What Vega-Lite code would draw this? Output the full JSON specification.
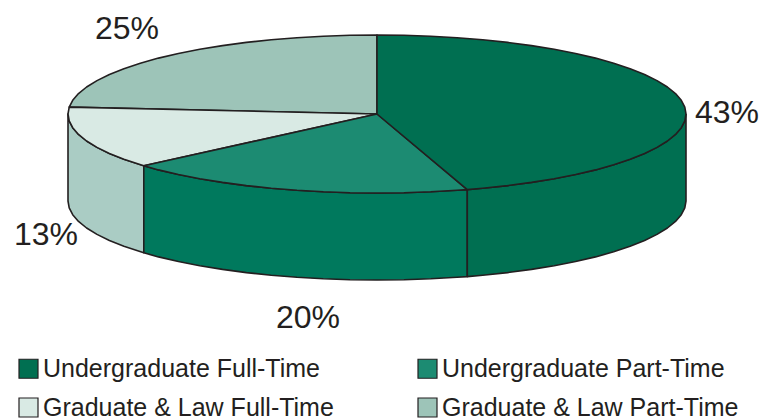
{"$schema":"https://vega.github.io/schema/vega-lite/v6.json","width":763,"height":419,"padding":0,"autosize":{"type":"fit","contains":"padding"},"background":"white","datasets":{"faces":[
{"face":"Graduate & Law Full-Time side","x":143.8,"y":165.8},{"face":"Graduate & Law Full-Time side","x":123.9,"y":159.3},{"face":"Graduate & Law Full-Time side","x":109.4,"y":153.5},{"face":"Graduate & Law Full-Time side","x":97,"y":147.4},{"face":"Graduate & Law Full-Time side","x":86.6,"y":141},{"face":"Graduate & Law Full-Time side","x":78.5,"y":134.4},{"face":"Graduate & Law Full-Time side","x":72.7,"y":127.7},{"face":"Graduate & Law Full-Time side","x":69.2,"y":120.9},{"face":"Graduate & Law Full-Time side","x":68,"y":114},{"face":"Graduate & Law Full-Time side","x":68,"y":201},{"face":"Graduate & Law Full-Time side","x":69.2,"y":207.9},{"face":"Graduate & Law Full-Time side","x":72.7,"y":214.7},{"face":"Graduate & Law Full-Time side","x":78.5,"y":221.4},{"face":"Graduate & Law Full-Time side","x":86.6,"y":228},{"face":"Graduate & Law Full-Time side","x":97,"y":234.4},{"face":"Graduate & Law Full-Time side","x":109.4,"y":240.5},{"face":"Graduate & Law Full-Time side","x":123.9,"y":246.3},{"face":"Graduate & Law Full-Time side","x":143.8,"y":252.8},{"face":"Graduate & Law Full-Time side","x":143.8,"y":165.8},
{"face":"Undergraduate Part-Time side","x":467.3,"y":189.6},{"face":"Undergraduate Part-Time side","x":457,"y":190.3},{"face":"Undergraduate Part-Time side","x":430.7,"y":191.8},{"face":"Undergraduate Part-Time side","x":403.9,"y":192.7},{"face":"Undergraduate Part-Time side","x":377,"y":193},{"face":"Undergraduate Part-Time side","x":350.1,"y":192.7},{"face":"Undergraduate Part-Time side","x":323.3,"y":191.8},{"face":"Undergraduate Part-Time side","x":297,"y":190.3},{"face":"Undergraduate Part-Time side","x":271.3,"y":188.2},{"face":"Undergraduate Part-Time side","x":246.4,"y":185.6},{"face":"Undergraduate Part-Time side","x":222.5,"y":182.4},{"face":"Undergraduate Part-Time side","x":199.8,"y":178.7},{"face":"Undergraduate Part-Time side","x":178.4,"y":174.5},{"face":"Undergraduate Part-Time side","x":158.5,"y":169.9},{"face":"Undergraduate Part-Time side","x":143.8,"y":165.8},{"face":"Undergraduate Part-Time side","x":143.8,"y":252.8},{"face":"Undergraduate Part-Time side","x":158.5,"y":256.9},{"face":"Undergraduate Part-Time side","x":178.4,"y":261.5},{"face":"Undergraduate Part-Time side","x":199.8,"y":265.7},{"face":"Undergraduate Part-Time side","x":222.5,"y":269.4},{"face":"Undergraduate Part-Time side","x":246.4,"y":272.6},{"face":"Undergraduate Part-Time side","x":271.3,"y":275.2},{"face":"Undergraduate Part-Time side","x":297,"y":277.3},{"face":"Undergraduate Part-Time side","x":323.3,"y":278.8},{"face":"Undergraduate Part-Time side","x":350.1,"y":279.7},{"face":"Undergraduate Part-Time side","x":377,"y":280},{"face":"Undergraduate Part-Time side","x":403.9,"y":279.7},{"face":"Undergraduate Part-Time side","x":430.7,"y":278.8},{"face":"Undergraduate Part-Time side","x":457,"y":277.3},{"face":"Undergraduate Part-Time side","x":467.3,"y":276.6},{"face":"Undergraduate Part-Time side","x":467.3,"y":189.6},
{"face":"Undergraduate Full-Time side","x":686,"y":114},{"face":"Undergraduate Full-Time side","x":684.8,"y":120.9},{"face":"Undergraduate Full-Time side","x":681.3,"y":127.7},{"face":"Undergraduate Full-Time side","x":675.5,"y":134.4},{"face":"Undergraduate Full-Time side","x":667.4,"y":141},{"face":"Undergraduate Full-Time side","x":657,"y":147.4},{"face":"Undergraduate Full-Time side","x":644.6,"y":153.5},{"face":"Undergraduate Full-Time side","x":630.1,"y":159.3},{"face":"Undergraduate Full-Time side","x":613.7,"y":164.8},{"face":"Undergraduate Full-Time side","x":595.5,"y":169.9},{"face":"Undergraduate Full-Time side","x":575.6,"y":174.5},{"face":"Undergraduate Full-Time side","x":554.2,"y":178.7},{"face":"Undergraduate Full-Time side","x":531.5,"y":182.4},{"face":"Undergraduate Full-Time side","x":507.6,"y":185.6},{"face":"Undergraduate Full-Time side","x":482.7,"y":188.2},{"face":"Undergraduate Full-Time side","x":467.3,"y":189.6},{"face":"Undergraduate Full-Time side","x":467.3,"y":276.6},{"face":"Undergraduate Full-Time side","x":482.7,"y":275.2},{"face":"Undergraduate Full-Time side","x":507.6,"y":272.6},{"face":"Undergraduate Full-Time side","x":531.5,"y":269.4},{"face":"Undergraduate Full-Time side","x":554.2,"y":265.7},{"face":"Undergraduate Full-Time side","x":575.6,"y":261.5},{"face":"Undergraduate Full-Time side","x":595.5,"y":256.9},{"face":"Undergraduate Full-Time side","x":613.7,"y":251.8},{"face":"Undergraduate Full-Time side","x":630.1,"y":246.3},{"face":"Undergraduate Full-Time side","x":644.6,"y":240.5},{"face":"Undergraduate Full-Time side","x":657,"y":234.4},{"face":"Undergraduate Full-Time side","x":667.4,"y":228},{"face":"Undergraduate Full-Time side","x":675.5,"y":221.4},{"face":"Undergraduate Full-Time side","x":681.3,"y":214.7},{"face":"Undergraduate Full-Time side","x":684.8,"y":207.9},{"face":"Undergraduate Full-Time side","x":686,"y":201},{"face":"Undergraduate Full-Time side","x":686,"y":114},
{"face":"Graduate & Law Part-Time","x":377,"y":114},{"face":"Graduate & Law Part-Time","x":69.2,"y":107.1},{"face":"Graduate & Law Part-Time","x":72.7,"y":100.3},{"face":"Graduate & Law Part-Time","x":78.5,"y":93.6},{"face":"Graduate & Law Part-Time","x":86.6,"y":87},{"face":"Graduate & Law Part-Time","x":97,"y":80.6},{"face":"Graduate & Law Part-Time","x":109.4,"y":74.5},{"face":"Graduate & Law Part-Time","x":123.9,"y":68.7},{"face":"Graduate & Law Part-Time","x":140.3,"y":63.2},{"face":"Graduate & Law Part-Time","x":158.5,"y":58.1},{"face":"Graduate & Law Part-Time","x":178.4,"y":53.5},{"face":"Graduate & Law Part-Time","x":199.8,"y":49.3},{"face":"Graduate & Law Part-Time","x":222.5,"y":45.6},{"face":"Graduate & Law Part-Time","x":246.4,"y":42.4},{"face":"Graduate & Law Part-Time","x":271.3,"y":39.8},{"face":"Graduate & Law Part-Time","x":297,"y":37.7},{"face":"Graduate & Law Part-Time","x":323.3,"y":36.2},{"face":"Graduate & Law Part-Time","x":350.1,"y":35.3},{"face":"Graduate & Law Part-Time","x":377,"y":35},{"face":"Graduate & Law Part-Time","x":377,"y":114},
{"face":"Graduate & Law Full-Time","x":377,"y":114},{"face":"Graduate & Law Full-Time","x":143.8,"y":165.8},{"face":"Graduate & Law Full-Time","x":123.9,"y":159.3},{"face":"Graduate & Law Full-Time","x":109.4,"y":153.5},{"face":"Graduate & Law Full-Time","x":97,"y":147.4},{"face":"Graduate & Law Full-Time","x":86.6,"y":141},{"face":"Graduate & Law Full-Time","x":78.5,"y":134.4},{"face":"Graduate & Law Full-Time","x":72.7,"y":127.7},{"face":"Graduate & Law Full-Time","x":69.2,"y":120.9},{"face":"Graduate & Law Full-Time","x":68,"y":114},{"face":"Graduate & Law Full-Time","x":69.2,"y":107.1},{"face":"Graduate & Law Full-Time","x":377,"y":114},
{"face":"Undergraduate Part-Time","x":377,"y":114},{"face":"Undergraduate Part-Time","x":467.3,"y":189.6},{"face":"Undergraduate Part-Time","x":457,"y":190.3},{"face":"Undergraduate Part-Time","x":430.7,"y":191.8},{"face":"Undergraduate Part-Time","x":403.9,"y":192.7},{"face":"Undergraduate Part-Time","x":377,"y":193},{"face":"Undergraduate Part-Time","x":350.1,"y":192.7},{"face":"Undergraduate Part-Time","x":323.3,"y":191.8},{"face":"Undergraduate Part-Time","x":297,"y":190.3},{"face":"Undergraduate Part-Time","x":271.3,"y":188.2},{"face":"Undergraduate Part-Time","x":246.4,"y":185.6},{"face":"Undergraduate Part-Time","x":222.5,"y":182.4},{"face":"Undergraduate Part-Time","x":199.8,"y":178.7},{"face":"Undergraduate Part-Time","x":178.4,"y":174.5},{"face":"Undergraduate Part-Time","x":158.5,"y":169.9},{"face":"Undergraduate Part-Time","x":143.8,"y":165.8},{"face":"Undergraduate Part-Time","x":377,"y":114},
{"face":"Undergraduate Full-Time","x":377,"y":114},{"face":"Undergraduate Full-Time","x":377,"y":35},{"face":"Undergraduate Full-Time","x":403.9,"y":35.3},{"face":"Undergraduate Full-Time","x":430.7,"y":36.2},{"face":"Undergraduate Full-Time","x":457,"y":37.7},{"face":"Undergraduate Full-Time","x":482.7,"y":39.8},{"face":"Undergraduate Full-Time","x":507.6,"y":42.4},{"face":"Undergraduate Full-Time","x":531.5,"y":45.6},{"face":"Undergraduate Full-Time","x":554.2,"y":49.3},{"face":"Undergraduate Full-Time","x":575.6,"y":53.5},{"face":"Undergraduate Full-Time","x":595.5,"y":58.1},{"face":"Undergraduate Full-Time","x":613.7,"y":63.2},{"face":"Undergraduate Full-Time","x":630.1,"y":68.7},{"face":"Undergraduate Full-Time","x":644.6,"y":74.5},{"face":"Undergraduate Full-Time","x":657,"y":80.6},{"face":"Undergraduate Full-Time","x":667.4,"y":87},{"face":"Undergraduate Full-Time","x":675.5,"y":93.6},{"face":"Undergraduate Full-Time","x":681.3,"y":100.3},{"face":"Undergraduate Full-Time","x":684.8,"y":107.1},{"face":"Undergraduate Full-Time","x":686,"y":114},{"face":"Undergraduate Full-Time","x":684.8,"y":120.9},{"face":"Undergraduate Full-Time","x":681.3,"y":127.7},{"face":"Undergraduate Full-Time","x":675.5,"y":134.4},{"face":"Undergraduate Full-Time","x":667.4,"y":141},{"face":"Undergraduate Full-Time","x":657,"y":147.4},{"face":"Undergraduate Full-Time","x":644.6,"y":153.5},{"face":"Undergraduate Full-Time","x":630.1,"y":159.3},{"face":"Undergraduate Full-Time","x":613.7,"y":164.8},{"face":"Undergraduate Full-Time","x":595.5,"y":169.9},{"face":"Undergraduate Full-Time","x":575.6,"y":174.5},{"face":"Undergraduate Full-Time","x":554.2,"y":178.7},{"face":"Undergraduate Full-Time","x":531.5,"y":182.4},{"face":"Undergraduate Full-Time","x":507.6,"y":185.6},{"face":"Undergraduate Full-Time","x":482.7,"y":188.2},{"face":"Undergraduate Full-Time","x":467.3,"y":189.6},{"face":"Undergraduate Full-Time","x":377,"y":114}
],"labels":[{"label":"43%","x":727,"y":113},{"label":"20%","x":308,"y":318},{"label":"13%","x":46,"y":235},{"label":"25%","x":127,"y":29}]},
"layer":[
{"data":{"name":"faces"},"mark":{"type":"line","stroke":"#231F20","strokeWidth":1.6,"strokeJoin":"round","clip":false},"encoding":{"x":{"field":"x","type":"quantitative","scale":{"domain":[0,763]},"axis":null},"y":{"field":"y","type":"quantitative","scale":{"domain":[419,0]},"axis":null},"order":{"value":null},"fill":{"field":"face","type":"nominal","sort":null,"scale":{"domain":["Undergraduate Full-Time","Undergraduate Part-Time","Graduate & Law Full-Time","Graduate & Law Part-Time","Undergraduate Full-Time side","Undergraduate Part-Time side","Graduate & Law Full-Time side"],"range":["#006F51","#1C8B72","#D9EAE4","#9DC4B8","#006F51","#00795D","#AACCC4"]},"legend":{"values":["Undergraduate Full-Time","Graduate & Law Full-Time","Undergraduate Part-Time","Graduate & Law Part-Time"],"title":null,"orient":"none","legendX":16,"legendY":356,"columns":2,"columnPadding":81,"rowPadding":13,"symbolType":"square","symbolSize":361,"symbolStrokeColor":"#231F20","symbolStrokeWidth":1.2,"labelFont":"Liberation Sans","labelFontSize":25,"labelColor":"#231F20","labelOffset":2,"labelLimit":400}}}},
{"data":{"name":"labels"},"mark":{"type":"text","font":"Liberation Sans","fontSize":32,"color":"#231F20","align":"center","baseline":"middle"},"encoding":{"x":{"field":"x","type":"quantitative","scale":{"domain":[0,763]},"axis":null},"y":{"field":"y","type":"quantitative","scale":{"domain":[419,0]},"axis":null},"text":{"field":"label","type":"nominal"}}}
],"config":{"view":{"stroke":null}}}
